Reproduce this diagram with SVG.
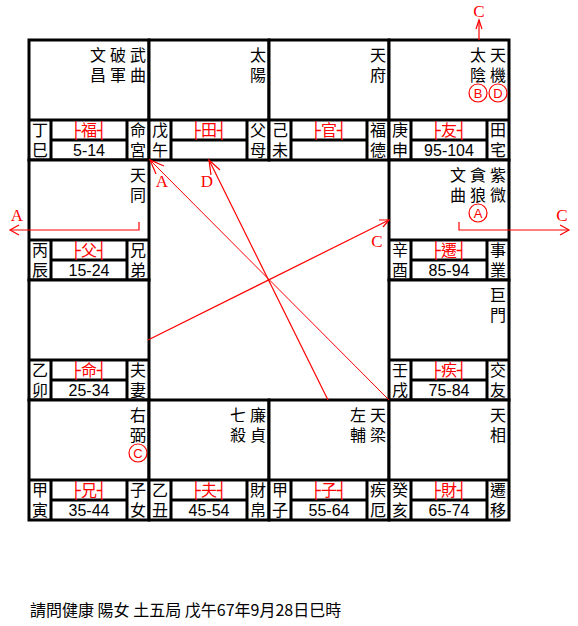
<svg xmlns="http://www.w3.org/2000/svg" width="578" height="626" viewBox="0 0 578 626">
<style>
.cell rect{fill:#fff;stroke:#000;stroke-width:3}
.cell line{stroke:#000;stroke-width:3}
.v{font-family:'Noto Sans CJK TC',sans-serif;font-size:16px;fill:#000;writing-mode:vertical-rl;text-anchor:start;letter-spacing:4px}
.box{font-family:'DejaVu Sans Mono','Noto Sans CJK TC',monospace;font-size:16px;text-anchor:middle;fill:#f00}
.age{font-family:'Liberation Sans',Arial,sans-serif;font-size:16px;text-anchor:middle;fill:#000}
.lbl{font-family:'Liberation Serif',serif;font-size:17px;fill:#f00;text-anchor:middle}
.ci{fill:none;stroke:#f00;stroke-width:1.2}
.ct{font-family:'Liberation Sans',Arial,sans-serif;font-size:13px;fill:#f00;text-anchor:middle}
.cn{fill:none;stroke:#f00;stroke-width:1.2}
.foot{font-family:'Noto Sans CJK TC',sans-serif;font-size:16px;fill:#000}
</style>
<rect width="578" height="626" fill="#fff"/>

<g id="p-si" class="cell">
<rect x="29" y="40" width="120" height="120"/>
<line x1="29" y1="120" x2="149" y2="120"/><line x1="51" y1="140" x2="127" y2="140"/>
<line x1="51" y1="120" x2="51" y2="160"/><line x1="127" y1="120" x2="127" y2="160"/>
<text class="v" x="138" y="47">武曲</text>
<text class="v" x="118" y="47">破軍</text>
<text class="v" x="98" y="47">文昌</text>
<text class="v" x="40" y="122">丁巳</text>
<text class="v" x="138" y="122">命宮</text>
<text class="box" x="89" y="136">├福┤</text><text class="age" x="89" y="156">5-14</text>
</g>

<g id="p-wu" class="cell">
<rect x="149" y="40" width="120" height="120"/>
<line x1="149" y1="120" x2="269" y2="120"/><line x1="171" y1="140" x2="247" y2="140"/>
<line x1="171" y1="120" x2="171" y2="160"/><line x1="247" y1="120" x2="247" y2="160"/>
<text class="v" x="258" y="47">太陽</text>
<text class="v" x="160" y="122">戊午</text>
<text class="v" x="258" y="122">父母</text>
<text class="box" x="209" y="136">├田┤</text>
</g>

<g id="p-wei" class="cell">
<rect x="269" y="40" width="120" height="120"/>
<line x1="269" y1="120" x2="389" y2="120"/><line x1="291" y1="140" x2="367" y2="140"/>
<line x1="291" y1="120" x2="291" y2="160"/><line x1="367" y1="120" x2="367" y2="160"/>
<text class="v" x="378" y="47">天府</text>
<text class="v" x="280" y="122">己未</text>
<text class="v" x="378" y="122">福德</text>
<text class="box" x="329" y="136">├官┤</text>
</g>

<g id="p-shen" class="cell">
<rect x="389" y="40" width="120" height="120"/>
<line x1="389" y1="120" x2="509" y2="120"/><line x1="411" y1="140" x2="487" y2="140"/>
<line x1="411" y1="120" x2="411" y2="160"/><line x1="487" y1="120" x2="487" y2="160"/>
<text class="v" x="498" y="47">天機</text>
<text class="v" x="478" y="47">太陰</text>
<circle class="ci" cx="478" cy="93" r="9"/><text class="ct" x="478" y="97.7">B</text>
<circle class="ci" cx="498" cy="93" r="9"/><text class="ct" x="498" y="97.7">D</text>
<text class="v" x="400" y="122">庚申</text>
<text class="v" x="498" y="122">田宅</text>
<text class="box" x="449" y="136">├友┤</text><text class="age" x="449" y="156">95-104</text>
</g>

<g id="p-chen" class="cell">
<rect x="29" y="160" width="120" height="120"/>
<line x1="29" y1="240" x2="149" y2="240"/><line x1="51" y1="260" x2="127" y2="260"/>
<line x1="51" y1="240" x2="51" y2="280"/><line x1="127" y1="240" x2="127" y2="280"/>
<text class="v" x="138" y="167">天同</text>
<text class="v" x="40" y="242">丙辰</text>
<text class="v" x="138" y="242">兄弟</text>
<text class="box" x="89" y="256">├父┤</text><text class="age" x="89" y="276">15-24</text>
</g>

<g id="p-you" class="cell">
<rect x="389" y="160" width="120" height="120"/>
<line x1="389" y1="240" x2="509" y2="240"/><line x1="411" y1="260" x2="487" y2="260"/>
<line x1="411" y1="240" x2="411" y2="280"/><line x1="487" y1="240" x2="487" y2="280"/>
<text class="v" x="498" y="167">紫微</text>
<text class="v" x="478" y="167">貪狼</text>
<text class="v" x="458" y="167">文曲</text>
<circle class="ci" cx="478" cy="213" r="9"/><text class="ct" x="478" y="217.7">A</text>
<text class="v" x="400" y="242">辛酉</text>
<text class="v" x="498" y="242">事業</text>
<text class="box" x="449" y="256">├遷┤</text><text class="age" x="449" y="276">85-94</text>
</g>

<g id="p-mao" class="cell">
<rect x="29" y="280" width="120" height="120"/>
<line x1="29" y1="360" x2="149" y2="360"/><line x1="51" y1="380" x2="127" y2="380"/>
<line x1="51" y1="360" x2="51" y2="400"/><line x1="127" y1="360" x2="127" y2="400"/>
<text class="v" x="40" y="362">乙卯</text>
<text class="v" x="138" y="362">夫妻</text>
<text class="box" x="89" y="376">├命┤</text><text class="age" x="89" y="396">25-34</text>
</g>

<g id="p-xu" class="cell">
<rect x="389" y="280" width="120" height="120"/>
<line x1="389" y1="360" x2="509" y2="360"/><line x1="411" y1="380" x2="487" y2="380"/>
<line x1="411" y1="360" x2="411" y2="400"/><line x1="487" y1="360" x2="487" y2="400"/>
<text class="v" x="498" y="287">巨門</text>
<text class="v" x="400" y="362">壬戌</text>
<text class="v" x="498" y="362">交友</text>
<text class="box" x="449" y="376">├疾┤</text><text class="age" x="449" y="396">75-84</text>
</g>

<g id="p-yin" class="cell">
<rect x="29" y="400" width="120" height="120"/>
<line x1="29" y1="480" x2="149" y2="480"/><line x1="51" y1="500" x2="127" y2="500"/>
<line x1="51" y1="480" x2="51" y2="520"/><line x1="127" y1="480" x2="127" y2="520"/>
<text class="v" x="138" y="407">右弼</text>
<circle class="ci" cx="138" cy="453" r="9"/><text class="ct" x="138" y="457.7">C</text>
<text class="v" x="40" y="482">甲寅</text>
<text class="v" x="138" y="482">子女</text>
<text class="box" x="89" y="496">├兄┤</text><text class="age" x="89" y="516">35-44</text>
</g>

<g id="p-chou" class="cell">
<rect x="149" y="400" width="120" height="120"/>
<line x1="149" y1="480" x2="269" y2="480"/><line x1="171" y1="500" x2="247" y2="500"/>
<line x1="171" y1="480" x2="171" y2="520"/><line x1="247" y1="480" x2="247" y2="520"/>
<text class="v" x="258" y="407">廉貞</text>
<text class="v" x="238" y="407">七殺</text>
<text class="v" x="160" y="482">乙丑</text>
<text class="v" x="258" y="482">財帛</text>
<text class="box" x="209" y="496">├夫┤</text><text class="age" x="209" y="516">45-54</text>
</g>

<g id="p-zi" class="cell">
<rect x="269" y="400" width="120" height="120"/>
<line x1="269" y1="480" x2="389" y2="480"/><line x1="291" y1="500" x2="367" y2="500"/>
<line x1="291" y1="480" x2="291" y2="520"/><line x1="367" y1="480" x2="367" y2="520"/>
<text class="v" x="378" y="407">天梁</text>
<text class="v" x="358" y="407">左輔</text>
<text class="v" x="280" y="482">甲子</text>
<text class="v" x="378" y="482">疾厄</text>
<text class="box" x="329" y="496">├子┤</text><text class="age" x="329" y="516">55-64</text>
</g>

<g id="p-hai" class="cell">
<rect x="389" y="400" width="120" height="120"/>
<line x1="389" y1="480" x2="509" y2="480"/><line x1="411" y1="500" x2="487" y2="500"/>
<line x1="411" y1="480" x2="411" y2="520"/><line x1="487" y1="480" x2="487" y2="520"/>
<text class="v" x="498" y="407">天相</text>
<text class="v" x="400" y="482">癸亥</text>
<text class="v" x="498" y="482">遷移</text>
<text class="box" x="449" y="496">├財┤</text><text class="age" x="449" y="516">65-74</text>
</g>

<g id="connectors">
<polyline class="cn" points="139,222 139,230 10,230"/>
<polyline class="cn" points="19,225 10,230 19,235"/>
<text class="lbl" x="17" y="221">A</text>
<polyline class="cn" points="459,222 459,230 569,230"/>
<polyline class="cn" points="560,225 569,230 560,235"/>
<text class="lbl" x="562" y="221">C</text>
<line class="cn" x1="479" y1="40" x2="479" y2="20"/>
<polyline class="cn" points="476,29 479,20 482,29"/>
<text class="lbl" x="479" y="17">C</text>
<line class="cn" x1="389" y1="400" x2="150" y2="160" style="stroke-width:1"/>
<polyline class="cn" points="164,166 150,160 156,174"/>
<text class="lbl" x="162" y="187">A</text>
<line class="cn" x1="328" y1="400" x2="209" y2="160"/>
<polyline class="cn" points="220,170 209,160 211,175"/>
<text class="lbl" x="207" y="187">D</text>
<line class="cn" x1="148" y1="340" x2="389" y2="220"/>
<polyline class="cn" points="379,220 389,220 383,227"/>
<text class="lbl" x="377" y="247">C</text>
</g>

<text class="foot" x="30" y="616">請問健康 陽女 土五局 戊午67年9月28日巳時</text>
</svg>
